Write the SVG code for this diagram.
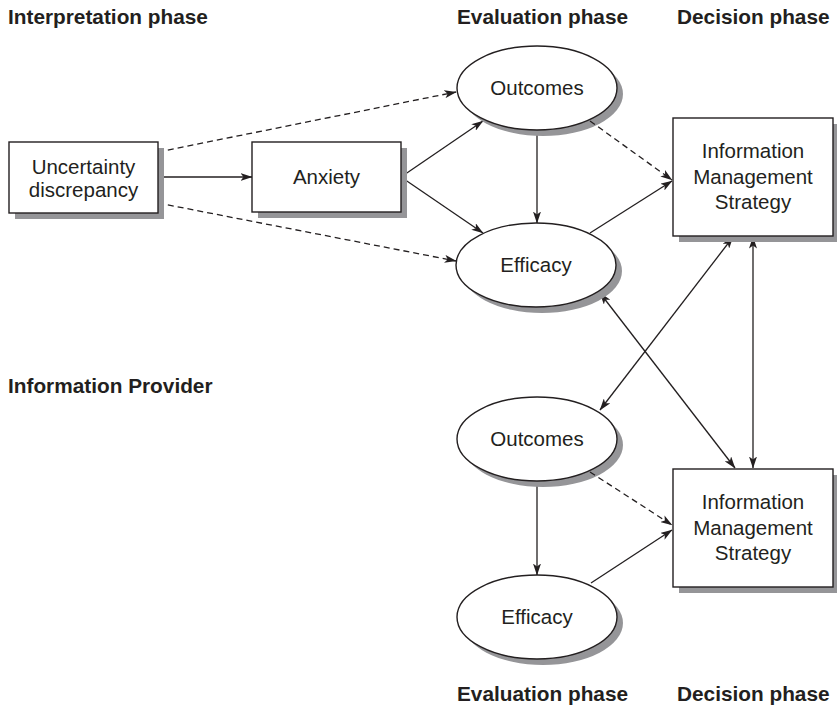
<svg xmlns="http://www.w3.org/2000/svg" width="837" height="706" viewBox="0 0 837 706">
<style>
.bg{fill:#ffffff}
.box{fill:#ffffff;stroke:#231f20;stroke-width:1.4}
.shadow{fill:#959598;stroke:none}
.t{font-family:"Liberation Sans",Arial,sans-serif;font-size:20.5px;fill:#231f20;text-anchor:middle}
.h{font-family:"Liberation Sans",Arial,sans-serif;font-size:20.8px;font-weight:bold;fill:#231f20}
.c{fill:none;stroke:#231f20;stroke-width:1.3}
.d{stroke-dasharray:6 4}
</style>
<defs>
<marker id="ah" viewBox="0 0 12 8" refX="11.5" refY="4" markerWidth="12" markerHeight="8" markerUnits="userSpaceOnUse" orient="auto-start-reverse">
<path d="M0,0 L12,4 L0,8 L3,4 z" fill="#231f20"/>
</marker>
</defs>
<rect class="bg" x="0" y="0" width="837" height="706"/>

<g id="headings">
<text class="h" x="8" y="24">Interpretation phase</text>
<text class="h" x="457" y="24">Evaluation phase</text>
<text class="h" x="677" y="24">Decision phase</text>
<text class="h" x="8" y="393">Information Provider</text>
<text class="h" x="457" y="701">Evaluation phase</text>
<text class="h" x="677" y="701">Decision phase</text>
</g>

<g id="connectors">
<line class="c" x1="158" y1="177" x2="252" y2="177" marker-end="url(#ah)"/>
<line class="c d" x1="158" y1="152" x2="456" y2="92" marker-end="url(#ah)"/>
<line class="c d" x1="158" y1="203" x2="456" y2="261" marker-end="url(#ah)"/>
<line class="c" x1="401" y1="177" x2="483" y2="121" marker-end="url(#ah)"/>
<line class="c" x1="401" y1="177" x2="483" y2="233" marker-end="url(#ah)"/>
<line class="c" x1="537" y1="130" x2="537" y2="223" marker-end="url(#ah)"/>
<line class="c" x1="537" y1="481" x2="537" y2="575" marker-end="url(#ah)"/>
<line class="c" x1="591" y1="583" x2="672" y2="530" marker-end="url(#ah)"/>
<line class="c" x1="590" y1="233" x2="672" y2="181" marker-end="url(#ah)"/>
<line class="c" x1="733" y1="237" x2="600" y2="410" marker-start="url(#ah)" marker-end="url(#ah)"/>
<line class="c" x1="753" y1="237" x2="753" y2="468" marker-start="url(#ah)" marker-end="url(#ah)"/>
<line class="c" x1="600" y1="293" x2="735" y2="468" marker-start="url(#ah)" marker-end="url(#ah)"/>
</g>

<g id="uncertainty">
<rect class="shadow" x="15" y="148" width="149" height="71"/>
<rect class="box" x="9" y="142" width="149" height="71"/>
<text class="t" x="83.5" y="174">Uncertainty</text>
<text class="t" x="83.5" y="197">discrepancy</text>
</g>

<g id="anxiety">
<rect class="shadow" x="258" y="148" width="149" height="70"/>
<rect class="box" x="252" y="142" width="149" height="70"/>
<text class="t" x="326.5" y="184">Anxiety</text>
</g>

<g id="outcomes1">
<ellipse class="shadow" cx="543" cy="94" rx="80" ry="42"/>
<ellipse class="box" cx="537" cy="88" rx="80" ry="42"/>
<text class="t" x="537" y="95">Outcomes</text>
</g>

<g id="efficacy1">
<ellipse class="shadow" cx="542" cy="271" rx="80" ry="42"/>
<ellipse class="box" cx="536" cy="265" rx="80" ry="42"/>
<text class="t" x="536" y="272">Efficacy</text>
</g>

<g id="ims1">
<rect class="shadow" x="679" y="124" width="160" height="118"/>
<rect class="box" x="673" y="118" width="160" height="118"/>
<text class="t" x="753" y="158">Information</text>
<text class="t" x="753" y="183.5">Management</text>
<text class="t" x="753" y="209">Strategy</text>
</g>

<g id="outcomes2">
<ellipse class="shadow" cx="543" cy="445" rx="80" ry="42"/>
<ellipse class="box" cx="537" cy="439" rx="80" ry="42"/>
<text class="t" x="537" y="446">Outcomes</text>
</g>

<g id="efficacy2">
<ellipse class="shadow" cx="543" cy="623" rx="80" ry="42"/>
<ellipse class="box" cx="537" cy="617" rx="80" ry="42"/>
<text class="t" x="537" y="624">Efficacy</text>
</g>

<g id="ims2">
<rect class="shadow" x="679" y="475" width="160" height="118"/>
<rect class="box" x="673" y="469" width="160" height="118"/>
<text class="t" x="753" y="509">Information</text>
<text class="t" x="753" y="534.5">Management</text>
<text class="t" x="753" y="560">Strategy</text>
</g>

<g id="dashed-over">
<line class="c d" x1="590" y1="121" x2="672" y2="180" marker-end="url(#ah)"/>
<line class="c d" x1="590" y1="472" x2="672" y2="525" marker-end="url(#ah)"/>
</g>
</svg>
